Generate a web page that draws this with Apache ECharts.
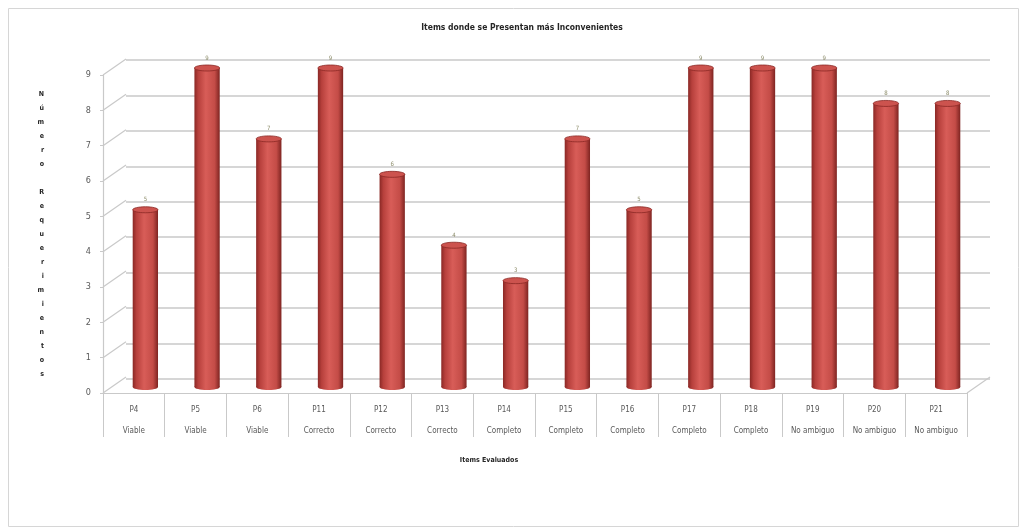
<!DOCTYPE html>
<html>
<head>
<meta charset="utf-8">
<script src="https://cdn.jsdelivr.net/npm/echarts@6/dist/echarts.min.js"></script>
<style>html,body{margin:0;padding:0;background:#fff;}#c{width:1019px;height:527px;}</style>
</head>
<body>
<div id="c"></div>
<script>
const items = ['P4','P5','P6','P11','P12','P13','P14','P15','P16','P17','P18','P19','P20','P21'];
const groups = ['Viable','Viable','Viable','Correcto','Correcto','Correcto','Completo','Completo','Completo','Completo','Completo','No ambiguo','No ambiguo','No ambiguo'];
const values = [5,9,7,9,6,4,3,7,5,9,9,9,8,8];
const yTicks = [0,1,2,3,4,5,6,7,8,9];
const chartTitle = 'Items donde se Presentan más Inconvenientes';
const xTitle = 'Items Evaluados';
const yTitle = 'Número Requerimientos';

const FONT = '"Liberation Sans Narrow","DejaVu Sans Condensed","Liberation Sans",sans-serif';
const DX = 23, DY = -16;   // depth offset (style)
const gridColor = '#c9c9c9';

const chart = echarts.init(document.getElementById('c'));

function cylinder(params, api) {
  const v = api.value(1);
  const top = api.coord([api.value(0), v]);
  const base = api.coord([api.value(0), 0]);
  const w = api.size([1, 0])[0] * 0.41;
  const x0 = top[0] - w / 2;
  const ry = 3;
  const grad = new echarts.graphic.LinearGradient(0, 0, 1, 0, [
    {offset: 0, color: '#8a2825'},
    {offset: 0.15, color: '#b7403c'},
    {offset: 0.45, color: '#d85d58'},
    {offset: 0.8, color: '#c44c47'},
    {offset: 1, color: '#7e2421'}
  ]);
  return {
    type: 'group',
    children: [
      {type: 'ellipse', shape: {cx: top[0], cy: base[1], rx: w / 2, ry: ry}, style: {fill: grad}},
      {type: 'rect', shape: {x: x0, y: top[1], width: w, height: base[1] - top[1]}, style: {fill: grad}},
      {type: 'ellipse', shape: {cx: top[0], cy: top[1], rx: w / 2, ry: ry},
        style: {fill: '#cc534e', stroke: '#8a2825', lineWidth: 0.8}},
      {type: 'text', style: {text: String(v), x: top[0], y: top[1] - 7, align: 'center',
        verticalAlign: 'bottom', fontSize: 6, fill: '#8c8c6a', fontFamily: FONT}}
    ]
  };
}

function leftWall(params, api) {
  const p = api.coord([0, api.value(1)]);
  const left = p[0] - api.size([1, 0])[0] / 2;
  return {
    type: 'line',
    shape: {x1: left, y1: p[1], x2: left + DX, y2: p[1] + DY},
    style: {stroke: gridColor, lineWidth: 1.2}
  };
}

function rightFloor(params, api) {
  const p = api.coord([api.value(0), 0]);
  const right = p[0] + api.size([1, 0])[0] / 2;
  return {
    type: 'line',
    shape: {x1: right, y1: p[1], x2: right + DX, y2: p[1] + DY},
    style: {stroke: gridColor, lineWidth: 1.2}
  };
}

const option = {
  animation: false,
  backgroundColor: '#ffffff',
  title: {
    text: chartTitle,
    left: 517, top: 18, textAlign: 'center',
    textStyle: {fontSize: 8.5, fontWeight: 'bold', color: '#262626', fontFamily: FONT}
  },
  graphic: [{
    type: 'rect', left: 6, top: 6, silent: true, z: -10,
    shape: {width: 1010, height: 518},
    style: {fill: 'none', stroke: '#d6d6d6', lineWidth: 1}
  }],
  grid: [
    {left: 103, right: 52, top: 75, bottom: 134},      // front
    {left: 114.5, right: 40.5, top: 68, bottom: 140},  // mid (bars)
    {left: 126, right: 29, top: 60, bottom: 148}       // back wall
  ],
  xAxis: [
    {
      gridIndex: 0, type: 'category', data: items,
      axisLine: {show: true, lineStyle: {color: gridColor, width: 1.2}},
      axisTick: {show: true, interval: 0, length: 44, lineStyle: {color: gridColor}},
      axisLabel: {
        interval: 0, margin: 6, fontSize: 8, color: '#595959', fontFamily: FONT, lineHeight: 21,
        formatter: (val, idx) => val + '\n' + groups[idx]
      },
      name: xTitle, nameLocation: 'middle', nameGap: 64,
      nameTextStyle: {fontSize: 7, fontWeight: 'bold', color: '#262626', fontFamily: FONT, padding: [0, 92, 0, 0]}
    },
    {gridIndex: 1, type: 'category', data: items, show: false},
    {gridIndex: 2, type: 'category', data: items, show: false}
  ],
  yAxis: [
    {
      gridIndex: 0, type: 'value', min: 0, max: 9, interval: 1,
      axisLine: {show: true, lineStyle: {color: gridColor, width: 1.2}},
      axisTick: {show: true, length: 3, lineStyle: {color: gridColor}},
      splitLine: {show: false},
      axisLabel: {fontSize: 9, color: '#595959', fontFamily: FONT, margin: 12},
      name: yTitle.split('').join('\n'), nameLocation: 'middle', nameGap: 59, nameRotate: 0,
      nameTextStyle: {fontSize: 7, fontWeight: 'bold', color: '#262626', fontFamily: FONT,
        lineHeight: 14, padding: [16, 0, 0, 0]}
    },
    {gridIndex: 1, type: 'value', min: 0, max: 9, interval: 1, show: false, splitLine: {show: false}},
    {
      gridIndex: 2, type: 'value', min: 0, max: 9, interval: 1,
      axisLine: {show: false}, axisTick: {show: false}, axisLabel: {show: false},
      splitLine: {show: true, lineStyle: {color: gridColor, width: 1.6}}
    }
  ],
  series: [
    {
      type: 'custom', xAxisIndex: 0, yAxisIndex: 0, renderItem: leftWall,
      data: yTicks.map(v => [0, v]), z: 1, silent: true
    },
    {
      type: 'custom', xAxisIndex: 0, yAxisIndex: 0, renderItem: rightFloor,
      data: [[items.length - 1, 0]], z: 1, silent: true
    },
    {
      type: 'custom', xAxisIndex: 1, yAxisIndex: 1, renderItem: cylinder,
      data: values.map((v, i) => [i, v]), z: 5
    }
  ]
};
chart.setOption(option);
</script>
</body>
</html>
